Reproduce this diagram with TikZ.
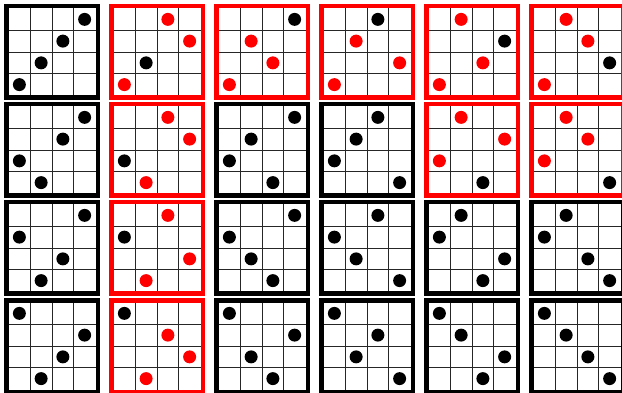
\documentclass[tikz,border=0pt]{standalone}
\usepackage{xcolor}
\usepackage{tikz}

\tikzset{
	permframe/.style={line width=4.5pt, line join=miter},
	cellline/.style={line width=0.8pt, black!85},
	pdot/.style={radius=6.5pt}
}

% one 4x4 permutation grid: column, row, frame colour, value/colour list
\newcommand{\permbox}[4]{%
	\begin{scope}[shift={({4+105*#1},{4+98*#2})}]
		\fill[white] (0,0) rectangle (96,96);
		\foreach \k in {1,2,3}
			\draw[cellline] ({4.5+21.75*\k},4.5) -- ({4.5+21.75*\k},91.5)
				(4.5,{4.5+21.75*\k}) -- (91.5,{4.5+21.75*\k});
		\draw[permframe, #3] (2.25,2.25) rectangle (93.75,93.75);
		\foreach \v/\c [count=\i] in {#4}
			\fill[\c] ({4.5+21.75*(\i-0.5)},{91.5-21.75*(\v-0.5)}) circle[pdot];
	\end{scope}}

\begin{document}
\begin{tikzpicture}[x=1pt, y=-1pt]
	\useasboundingbox (0,0) rectangle (622,393);
	\clip (0,0) rectangle (622,393);
	% first row
	\permbox{0}{0}{black}{1/black, 2/black, 3/black, 4/black}
	\permbox{1}{0}{red}{1/red, 2/black, 4/red, 3/red}
	\permbox{2}{0}{red}{1/red, 3/red, 2/red, 4/black}
	\permbox{3}{0}{red}{1/red, 3/red, 4/black, 2/red}
	\permbox{4}{0}{red}{1/red, 4/red, 2/red, 3/black}
	\permbox{5}{0}{red}{1/red, 4/red, 3/red, 2/black}
	% second row
	\permbox{0}{1}{black}{2/black, 1/black, 3/black, 4/black}
	\permbox{1}{1}{red}{2/black, 1/red, 4/red, 3/red}
	\permbox{2}{1}{black}{2/black, 3/black, 1/black, 4/black}
	\permbox{3}{1}{black}{2/black, 3/black, 4/black, 1/black}
	\permbox{4}{1}{red}{2/red, 4/red, 1/black, 3/red}
	\permbox{5}{1}{red}{2/red, 4/red, 3/red, 1/black}
	% third row
	\permbox{0}{2}{black}{3/black, 1/black, 2/black, 4/black}
	\permbox{1}{2}{red}{3/black, 1/red, 4/red, 2/red}
	\permbox{2}{2}{black}{3/black, 2/black, 1/black, 4/black}
	\permbox{3}{2}{black}{3/black, 2/black, 4/black, 1/black}
	\permbox{4}{2}{black}{3/black, 4/black, 1/black, 2/black}
	\permbox{5}{2}{black}{3/black, 4/black, 2/black, 1/black}
	% fourth row
	\permbox{0}{3}{black}{4/black, 1/black, 2/black, 3/black}
	\permbox{1}{3}{red}{4/black, 1/red, 3/red, 2/red}
	\permbox{2}{3}{black}{4/black, 2/black, 1/black, 3/black}
	\permbox{3}{3}{black}{4/black, 2/black, 3/black, 1/black}
	\permbox{4}{3}{black}{4/black, 3/black, 1/black, 2/black}
	\permbox{5}{3}{black}{4/black, 3/black, 2/black, 1/black}
\end{tikzpicture}
\end{document}
